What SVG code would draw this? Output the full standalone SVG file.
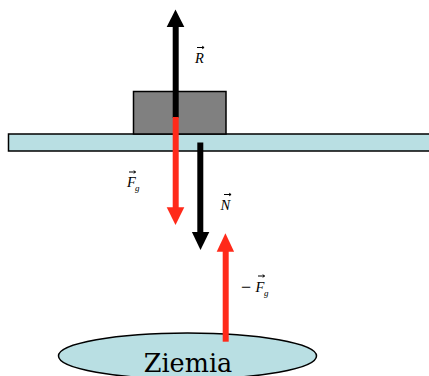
<svg xmlns="http://www.w3.org/2000/svg" width="429" height="376" viewBox="0 0 429 376">
<style>
.lbl{font-family:"Liberation Serif","Times New Roman",serif;font-style:italic;font-size:14.5px;fill:#000}
.sub{font-family:"Liberation Serif","Times New Roman",serif;font-style:italic;font-size:9px;fill:#000}
.vec{stroke:#000;stroke-width:1;fill:none}
.blk{stroke:#000;stroke-width:6;fill:none}
.red{stroke:#ff2a1a;stroke-width:6;fill:none}
</style>
<rect width="429" height="376" fill="#fff"/>
<g id="ziemia">
<ellipse cx="187.5" cy="356" rx="129" ry="23" fill="#b9dfe3" stroke="#000" stroke-width="1.5"/>
<text x="188" y="371.5" text-anchor="middle" style="font-family:'DejaVu Serif',serif;font-size:25.5px;fill:#000">Ziemia</text>
</g>
<g id="platform">
<rect x="8.5" y="134" width="425" height="17" fill="#b9dfe3" stroke="#000" stroke-width="1.5"/>
</g>
<g id="box">
<rect x="133.5" y="91.5" width="92.5" height="42.5" fill="#808080" stroke="#000" stroke-width="1.5"/>
</g>
<g id="connectors">
<line class="blk" x1="175.7" y1="26" x2="175.7" y2="118"/>
<polygon points="175.5,9.5 166.7,27 184.3,27" fill="#000"/>
<line class="red" x1="175.7" y1="117" x2="175.7" y2="208"/>
<polygon points="175.5,225 166.7,207.3 184.3,207.3" fill="#ff2a1a"/>
<line class="blk" x1="200.3" y1="142.5" x2="200.3" y2="233"/>
<polygon points="200.5,250 191.9,232 209.3,232" fill="#000"/>
<line class="red" x1="225.7" y1="250" x2="225.7" y2="341.7"/>
<polygon points="225.4,233.3 216.7,251.7 234.1,251.7" fill="#ff2a1a"/>
</g>
<g id="label-R">
<text class="lbl" x="195" y="63">R</text>
<path class="vec" d="M197,47.5 H204 M202.2,46.2 L204.1,47.5 L202.2,48.8"/>
</g>
<g id="label-Fg">
<text class="lbl" x="127" y="187">F</text>
<text class="sub" x="135" y="191">g</text>
<path class="vec" d="M129,172 H135.5 M133.7,170.7 L135.6,172 L133.7,173.3"/>
</g>
<g id="label-N">
<text class="lbl" x="220.5" y="210">N</text>
<path class="vec" d="M224,194.5 H231 M229.2,193.2 L231.1,194.5 L229.2,195.8"/>
</g>
<g id="label-minusFg">
<text class="lbl" x="241" y="292.5" style="font-style:normal;font-size:18px">−</text>
<text class="lbl" x="255.5" y="291.5">F</text>
<text class="sub" x="264" y="296">g</text>
<path class="vec" d="M258,276 H264.5 M262.7,274.7 L264.6,276 L262.7,277.3"/>
</g>
</svg>
